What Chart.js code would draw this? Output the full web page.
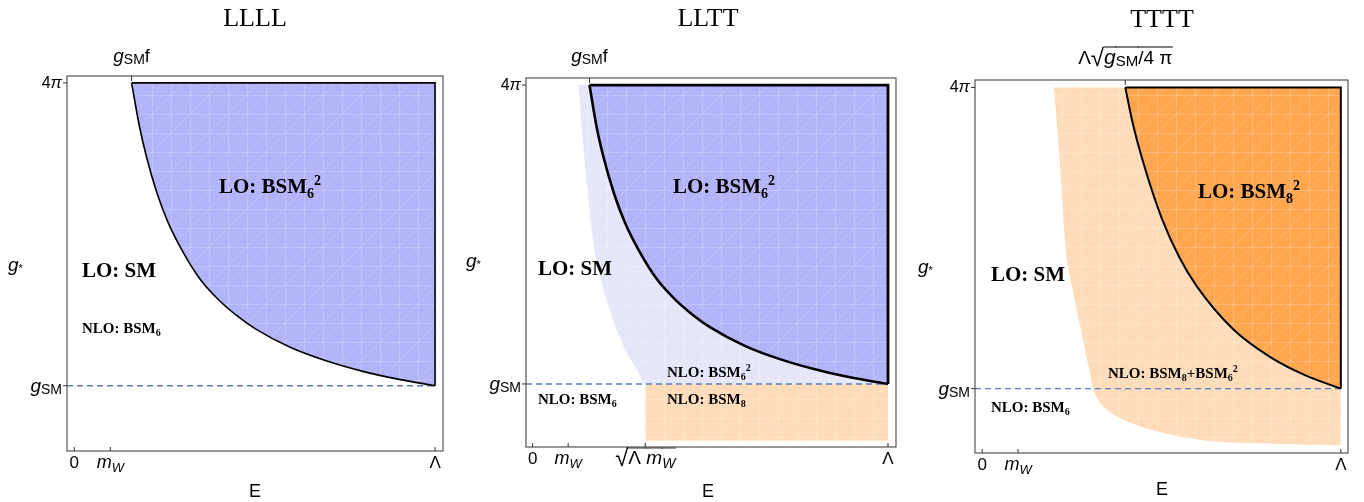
<!DOCTYPE html>
<html lang="en">
<head>
    <meta charset="UTF-8">
    <title>LLLL / LLTT / TTTT power counting regions</title>
    <script src="https://cdn.jsdelivr.net/npm/chart.js"></script>
    <style>
        body { margin: 0; background: #fff; }
        .panel { position: absolute; top: 0; }
    </style>
</head>
<body>
    <div class="panel" style="left:0px"><canvas id="llll" width="455" height="502"></canvas></div>
    <div class="panel" style="left:455px"><canvas id="lltt" width="455" height="502"></canvas></div>
    <div class="panel" style="left:910px"><canvas id="tttt" width="454" height="502"></canvas></div>

    <script>
        // axis reference values (E in units of Lambda, g* in absolute units)
        const G_SM = 2.0;
        const FOUR_PI = 12.57;
        const E_MW = 0.1;
        const E_SQRT = 0.317;   // sqrt(Lambda m_W)
        const E_LAMBDA = 1.0;

        // LLLL: LO BSM6^2 boundary
        const llllEdgeE = [0.159, 0.18, 0.2, 0.23, 0.26, 0.3, 0.35, 0.4, 0.45, 0.5, 0.6, 0.7, 0.8, 0.9, 1.0];
        const llllEdgeG = [12.57, 11.1, 10.0, 8.7, 7.7, 6.7, 5.7, 5.0, 4.45, 4.0, 3.33, 2.86, 2.5, 2.22, 2.0];

        // LLTT: NLO BSM6^2 (light) and LO BSM6^2 (dark) boundaries, BSM8 box
        const llttLightE = [0.129, 0.142, 0.157, 0.174, 0.195, 0.223, 0.261, 0.294, 0.317, 1.0];
        const llttLightG = [12.57, 10.5, 8.5, 6.74, 5.57, 4.38, 3.2, 2.5, 2.0, 2.0];
        const llttDarkE = [0.16, 0.18, 0.2, 0.23, 0.26, 0.3, 0.35, 0.4, 0.45, 0.5, 0.6, 0.7, 0.8, 0.9, 1.0];
        const llttDarkG = [12.57, 11.1, 10.0, 8.7, 7.7, 6.7, 5.7, 5.0, 4.45, 4.0, 3.33, 2.86, 2.5, 2.22, 2.0];
        const llttBoxE = [0.317, 1.0];
        const llttBoxG = [2.0, 2.0];

        // TTTT: NLO (light) and LO BSM8^2 (dark) boundaries
        const ttttLightE = [0.2, 0.214, 0.233, 0.249, 0.268, 0.287, 0.3, 0.309, 0.322, 0.35, 0.417, 0.51, 0.62, 0.8, 1.0];
        const ttttLightG = [12.57, 10.4, 6.86, 5.69, 4.51, 3.34, 2.6, 2.0, 1.62, 1.24, 0.78, 0.43, 0.18, 0.07, 0.01];
        const ttttDarkE = [0.399, 0.42, 0.45, 0.5, 0.55, 0.6, 0.7, 0.8, 0.9, 1.0];
        const ttttDarkG = [12.57, 11.3, 9.9, 8.0, 6.6, 5.56, 4.08, 3.13, 2.47, 2.0];

        const SERIF = '"Liberation Serif", "Times New Roman", serif';
        const SANS = '"Liberation Sans", Arial, sans-serif';
        const DARK_BLUE = '#b3b3fa';
        const LIGHT_BLUE = '#e6e6fb';
        const LIGHT_ORANGE = '#fedcb9';
        const DARK_ORANGE = '#ffa64f';
        const DASH_BLUE = '#5a7fc2';

        const pts = (xs, ys) => xs.map((x, i) => ({x: x, y: ys[i]}));

        // faint white mesh like the exported region plot
        function mesh(color) {
            const c = document.createElement('canvas');
            c.width = 19; c.height = 19;
            const g = c.getContext('2d');
            g.fillStyle = color;
            g.fillRect(0, 0, 19, 19);
            g.strokeStyle = 'rgba(255,255,255,0.2)';
            g.lineWidth = 1;
            g.beginPath();
            g.moveTo(0.5, 0); g.lineTo(0.5, 19);
            g.moveTo(0, 0.5); g.lineTo(19, 0.5);
            g.moveTo(0, 19); g.lineTo(19, 0);
            g.stroke();
            return g.createPattern(c, 'repeat');
        }

        // text pieces
        const rm = (t, s, dy) => ({t: t, f: s + 'px ' + SANS, dy: dy || 0});
        const it = (t, s, dy) => ({t: t, f: 'italic ' + s + 'px ' + SANS, dy: dy || 0});
        const bd = (t, s, dy) => ({t: t, f: 'bold ' + s + 'px ' + SERIF, dy: dy || 0});
        const gSM = [it('g', 19), rm('SM', 14, 2)];
        const mW = [it('m', 18), it('W', 13, 4)];
        const bsm = (big, n, sup, size) => {
            const s = size || 21, k = Math.round(s * 0.66);
            const out = [bd(big, s), bd(n, k, Math.round(s * 0.22))];
            if (sup) out.push(bd(sup, k, -Math.round(s * 0.4)));
            return out;
        };

        function rich(ctx, x, y, parts, align) {
            let w = 0;
            parts.forEach(p => { ctx.font = p.f; p.w = ctx.measureText(p.t).width; w += p.w; });
            let cx = align === 'center' ? x - w / 2 : (align === 'right' ? x - w : x);
            ctx.textAlign = 'left';
            ctx.textBaseline = 'alphabetic';
            parts.forEach(p => {
                ctx.font = p.f;
                ctx.fillText(p.t, cx, y + p.dy);
                if (p.bar) {
                    ctx.beginPath();
                    ctx.moveTo(cx - 0.5, y + p.bar);
                    ctx.lineTo(cx + p.w + 0.5, y + p.bar);
                    ctx.stroke();
                }
                cx += p.w;
            });
        }

        const decorPlugin = {
            id: 'decor',
            afterDraw(chart) {
                const d = chart.options.plugins.decor;
                const ctx = chart.ctx;
                const a = chart.chartArea;
                const xs = chart.scales.x, ys = chart.scales.y;
                ctx.save();
                ctx.fillStyle = '#000';
                // frame
                ctx.strokeStyle = '#555';
                ctx.lineWidth = 1.2;
                ctx.strokeRect(a.left, a.top, a.right - a.left, a.bottom - a.top);
                ctx.strokeStyle = '#333';
                ctx.lineWidth = 1;
                d.bottom.forEach(t => {
                    const px = xs.getPixelForValue(t.v);
                    ctx.beginPath(); ctx.moveTo(px, a.bottom); ctx.lineTo(px, a.bottom - 4); ctx.stroke();
                    rich(ctx, px, a.bottom + 17, t.p, 'center');
                });
                d.left.forEach(t => {
                    const py = ys.getPixelForValue(t.v);
                    ctx.beginPath(); ctx.moveTo(a.left, py); ctx.lineTo(a.left - 4, py); ctx.stroke();
                    rich(ctx, a.left - 5, py + t.dy, t.p, 'right');
                });
                d.top.forEach(t => {
                    const px = xs.getPixelForValue(t.v);
                    ctx.beginPath(); ctx.moveTo(px, a.top); ctx.lineTo(px, a.top + 5); ctx.stroke();
                    ctx.strokeStyle = '#000';
                    rich(ctx, px + (t.dx || 0), t.y, t.p, 'center');
                    ctx.strokeStyle = '#333';
                });
                d.notes.forEach(n => rich(ctx, n.x, n.y, n.p, n.align || 'left'));
                ctx.restore();
            }
        };

        function fillSet(data, color, target, order) {
            return {data: data, backgroundColor: mesh(color), borderWidth: 0, pointRadius: 0,
                    fill: {value: target}, cubicInterpolationMode: 'monotone', order: order};
        }
        function lineSet(data, width, order, smooth) {
            return {data: data, borderColor: '#000', borderWidth: width, pointRadius: 0, fill: false,
                    cubicInterpolationMode: smooth ? 'monotone' : 'default', tension: 0, order: order};
        }
        function dashSet(xMin) {
            return {data: pts([xMin, E_LAMBDA], [G_SM, G_SM]), borderColor: DASH_BLUE, borderWidth: 1.4,
                    borderDash: [6, 4], pointRadius: 0, fill: false, order: 2};
        }
        function boxSet(e0, width) {
            return lineSet(pts([e0, E_LAMBDA, E_LAMBDA], [FOUR_PI, FOUR_PI, G_SM]), width, 1, false);
        }

        function makePanel(id, pad, xr, yr, datasets, decor) {
            new Chart(document.getElementById(id), {
                type: 'line',
                data: {datasets: datasets},
                options: {
                    responsive: false,
                    animation: false,
                    layout: {padding: pad},
                    scales: {
                        x: {type: 'linear', min: xr[0], max: xr[1], display: false},
                        y: {type: 'linear', min: yr[0], max: yr[1], display: false}
                    },
                    plugins: {legend: {display: false}, tooltip: {enabled: false}, decor: decor}
                },
                plugins: [decorPlugin]
            });
        }

        const yTicks = [
            {v: FOUR_PI, dy: 5, p: [rm('4', 16), it('\u03c0', 17)]},
            {v: G_SM, dy: 6, p: gSM}
        ];
        const gStar = [it('g', 19), rm('*', 11, 1)];

        // LLLL
        makePanel('llll', {left: 67, right: 12, top: 76, bottom: 51}, [-0.02, 1.022], [-0.28, 12.81], [
            fillSet(pts(llllEdgeE, llllEdgeG), DARK_BLUE, FOUR_PI, 4),
            lineSet(pts(llllEdgeE, llllEdgeG), 1.6, 1, true),
            boxSet(llllEdgeE[0], 1.6),
            dashSet(-0.02)
        ], {
            bottom: [{v: 0, p: [rm('0', 17)]}, {v: E_MW, p: mW}, {v: E_LAMBDA, p: [rm('\u039b', 17)]}],
            left: yTicks,
            top: [{v: llllEdgeE[0], y: 62, p: gSM.concat([rm('f', 18)])}],
            notes: [
                {x: 255, y: 26, align: 'center', p: [{t: 'LLLL', f: '26px ' + SERIF, dy: 0}]},
                {x: 255, y: 497, align: 'center', p: [rm('E', 18)]},
                {x: 8, y: 271, p: gStar},
                {x: 219, y: 193, p: bsm('LO: BSM', '6', '2')},
                {x: 82, y: 277, p: [bd('LO: SM', 21)]},
                {x: 82, y: 333, p: bsm('NLO: BSM', '6', null, 15)}
            ]
        });

        // LLTT
        const sqrtLabel = [{t: '\u221a', f: '24px ' + SANS, dy: 2}, {t: '\u039b ', f: '19px ' + SANS, dy: 0, bar: -16},
                           {t: 'm', f: 'italic 19px ' + SANS, dy: 0, bar: -16}, {t: 'W', f: 'italic 14px ' + SANS, dy: 4, bar: -16}];
        makePanel('lltt', {left: 71, right: 14, top: 78, bottom: 55}, [-0.0186, 1.0225], [-0.23, 12.82], [
            fillSet(pts(llttLightE, llttLightG), LIGHT_BLUE, FOUR_PI, 6),
            fillSet(pts(llttBoxE, llttBoxG), LIGHT_ORANGE, 0, 6),
            fillSet(pts(llttDarkE, llttDarkG), DARK_BLUE, FOUR_PI, 4),
            lineSet(pts(llttDarkE, llttDarkG), 2.6, 1, true),
            boxSet(llttDarkE[0], 2.8),
            dashSet(-0.0186)
        ], {
            bottom: [{v: 0, p: [rm('0', 17)]}, {v: E_MW, p: mW}, {v: E_SQRT, p: sqrtLabel}, {v: E_LAMBDA, p: [rm('\u039b', 17)]}],
            left: yTicks,
            top: [{v: llttDarkE[0], y: 62, p: gSM.concat([rm('f', 18)])}],
            notes: [
                {x: 253, y: 26, align: 'center', p: [{t: 'LLTT', f: '26px ' + SERIF, dy: 0}]},
                {x: 253, y: 497, align: 'center', p: [rm('E', 18)]},
                {x: 11, y: 267, p: gStar},
                {x: 218, y: 193, p: bsm('LO: BSM', '6', '2')},
                {x: 83, y: 275, p: [bd('LO: SM', 21)]},
                {x: 212, y: 377, p: bsm('NLO: BSM', '6', '2', 15)},
                {x: 212, y: 404, p: bsm('NLO: BSM', '8', null, 15)},
                {x: 83, y: 404, p: bsm('NLO: BSM', '6', null, 15)}
            ]
        });

        // TTTT
        const topLabel = [rm('\u039b', 19), {t: '\u221a', f: '24px ' + SANS, dy: 2},
                          {t: 'g', f: 'italic 21px ' + SANS, dy: 0, bar: -17}, {t: 'SM', f: '15px ' + SANS, dy: 2, bar: -17},
                          {t: '/4 \u03c0', f: '19px ' + SANS, dy: 0, bar: -17}];
        makePanel('tttt', {left: 65, right: 16, top: 80, bottom: 49}, [-0.02, 1.02], [-0.26, 12.83], [
            fillSet(pts(ttttLightE, ttttLightG), LIGHT_ORANGE, FOUR_PI, 6),
            fillSet(pts(ttttDarkE, ttttDarkG), DARK_ORANGE, FOUR_PI, 4),
            lineSet(pts(ttttDarkE, ttttDarkG), 2, 1, true),
            boxSet(ttttDarkE[0], 2),
            dashSet(-0.02)
        ], {
            bottom: [{v: 0, p: [rm('0', 17)]}, {v: E_MW, p: mW}, {v: E_LAMBDA, p: [rm('\u039b', 17)]}],
            left: yTicks,
            top: [{v: ttttDarkE[0], y: 64, p: topLabel}],
            notes: [
                {x: 252, y: 27, align: 'center', p: [{t: 'TTTT', f: '26px ' + SERIF, dy: 0}]},
                {x: 252, y: 495, align: 'center', p: [rm('E', 18)]},
                {x: 8, y: 273, p: gStar},
                {x: 288, y: 198, p: bsm('LO: BSM', '8', '2')},
                {x: 81, y: 281, p: [bd('LO: SM', 21)]},
                {x: 198, y: 378, p: bsm('NLO: BSM', '8', null, 15).concat(bsm('+BSM', '6', '2', 15))},
                {x: 81, y: 412, p: bsm('NLO: BSM', '6', null, 15)}
            ]
        });
    </script>
</body>
</html>
